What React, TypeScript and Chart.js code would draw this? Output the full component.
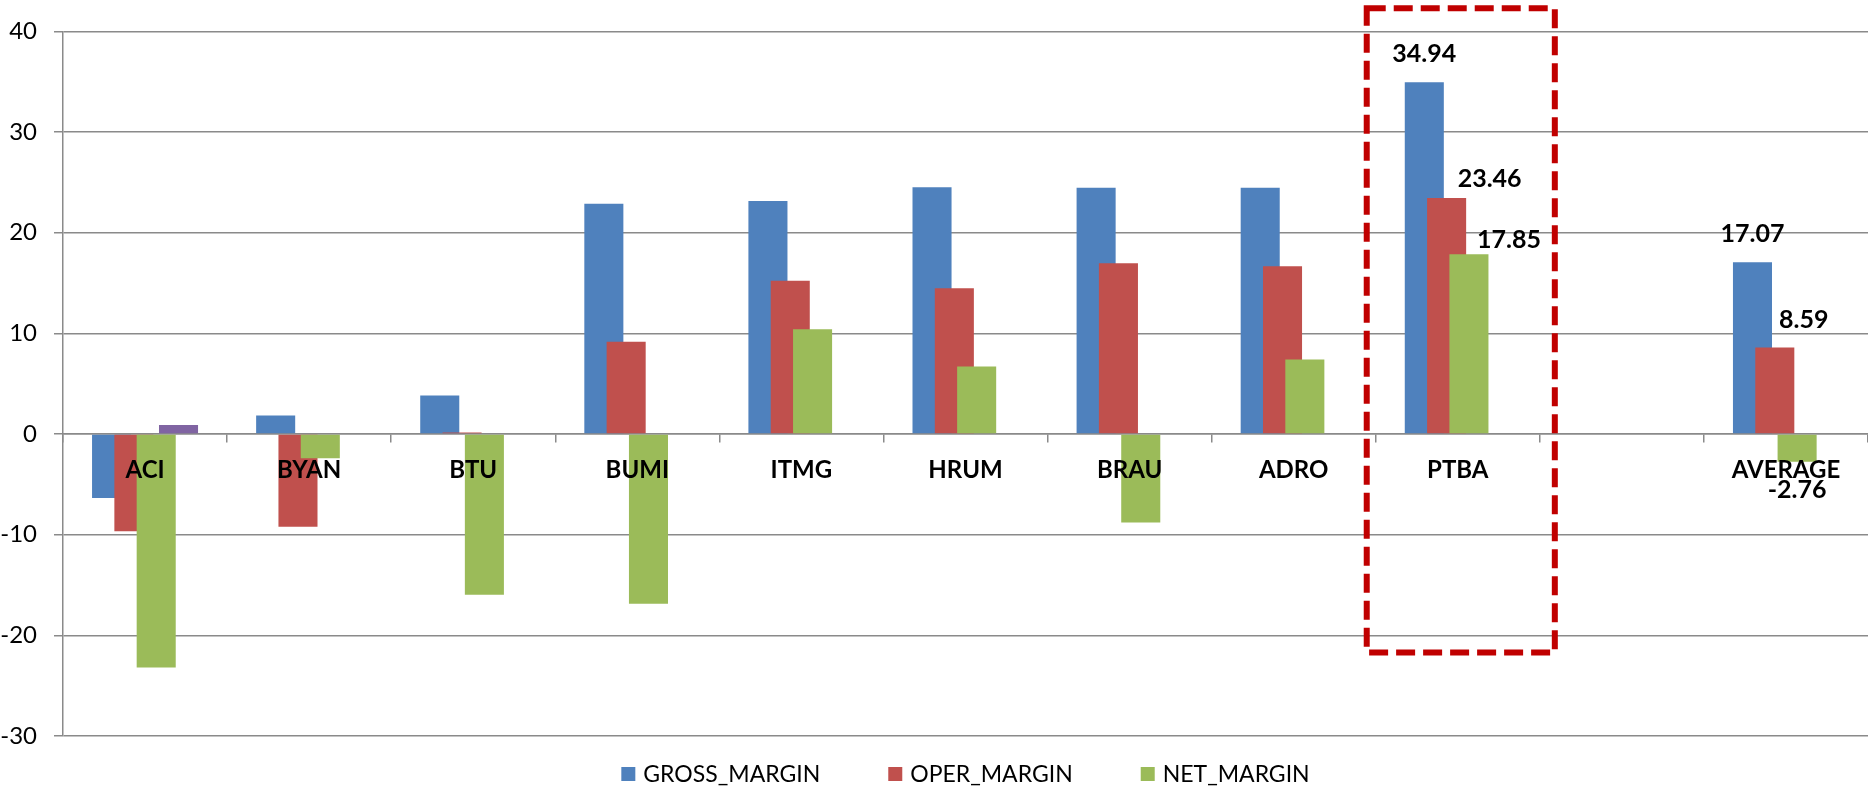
import React, { useEffect, useRef } from 'react';
import { Chart, registerables } from 'chart.js';

Chart.register(...registerables);

// ---------- data ----------
const CATEGORIES = ['ACI', 'BYAN', 'BTU', 'BUMI', 'ITMG', 'HRUM', 'BRAU', 'ADRO', 'PTBA', '', 'AVERAGE'];
const GROSS_MARGIN = [-6.35, 1.85, 3.83, 22.87, 23.14, 24.52, 24.46, 24.46, 34.94, null, 17.07];
const OPER_MARGIN = [-9.67, -9.2, 0.15, 9.18, 15.22, 14.49, 16.96, 16.66, 23.46, null, 8.59];
const NET_MARGIN = [-23.2, -2.4, -15.97, -16.86, 10.4, 6.7, -8.78, 7.4, 17.85, null, -2.76];
const EXTRA_SERIES = [0.9, null, null, null, null, null, null, null, null, null, null];
const SERIES_NAMES = ['GROSS_MARGIN', 'OPER_MARGIN', 'NET_MARGIN', ''];
const LEGEND_SERIES = [0, 1, 2];
const Y_MIN = -30;
const Y_MAX = 40;
const Y_STEP = 10;
const LABELED_CATEGORIES = ['PTBA', 'AVERAGE'];
const LABELED_SERIES = [0, 1, 2];

// ---------- styling ----------
const COLORS = ['#4F81BD', '#C0504D', '#9BBB59', '#8064A2'];
const GRID = '#8A8A8A';
const FONT = 'Lato, "Open Sans", sans-serif';
const LABEL_GAP = 28;
const LABEL_NUDGES: Record<string, [number, number]> = {
  'PTBA|1': [43, 9],
  'PTBA|2': [40, 14],
  'AVERAGE|1': [29, 0],
};
const HIGHLIGHT = { category: 'PTBA', yTop: 42.3, yBottom: -21.7, padLeft: 9, padRight: 15 };

const SERIES = [GROSS_MARGIN, OPER_MARGIN, NET_MARGIN, EXTRA_SERIES];

function drawValueLabels(chart: any) {
  const { ctx } = chart;
  ctx.save();
  ctx.font = `bold 25px ${FONT}`;
  ctx.fillStyle = '#000';
  ctx.textAlign = 'center';
  ctx.textBaseline = 'middle';
  LABELED_CATEGORIES.forEach((cat) => {
    const idx = CATEGORIES.indexOf(cat);
    LABELED_SERIES.forEach((di) => {
      const v = SERIES[di][idx];
      if (v == null) return;
      const bar = chart.getDatasetMeta(di).data[idx];
      if (!bar) return;
      const nudge = LABEL_NUDGES[`${cat}|${di}`] || [0, 0];
      const y = v >= 0 ? bar.y - LABEL_GAP : bar.y + LABEL_GAP;
      ctx.fillText(v.toFixed(2), bar.x + nudge[0], y + nudge[1]);
    });
  });
  ctx.restore();
}

const drawOrderPlugin = {
  id: 'drawOrder',
  beforeDatasetsDraw(chart: any) {
    const { ctx, chartArea } = chart;
    ctx.save();
    ctx.beginPath();
    ctx.rect(chartArea.left, chartArea.top, chartArea.right - chartArea.left, chartArea.bottom - chartArea.top);
    ctx.clip();
    const metas = chart.getSortedVisibleDatasetMetas().slice().sort((a: any, b: any) => a.index - b.index);
    metas.forEach((m: any) => m.controller.draw());
    ctx.restore();
    drawValueLabels(chart);
    return false;
  },
};

const highlightPlugin = {
  id: 'highlightBox',
  afterDraw(chart: any) {
    const { ctx } = chart;
    const xs = chart.scales.x;
    const ys = chart.scales.y;
    const i = CATEGORIES.indexOf(HIGHLIGHT.category);
    const half = (xs.getPixelForValue(1) - xs.getPixelForValue(0)) / 2;
    const left = xs.getPixelForValue(i) - half - HIGHLIGHT.padLeft;
    const right = xs.getPixelForValue(i) + half + HIGHLIGHT.padRight;
    const top = ys.getPixelForValue(HIGHLIGHT.yTop);
    const bottom = ys.getPixelForValue(HIGHLIGHT.yBottom);
    ctx.save();
    ctx.strokeStyle = '#C00000';
    ctx.lineWidth = 6;
    ctx.setLineDash([19, 8]);
    ctx.strokeRect(left, top, right - left, bottom - top);
    ctx.restore();
  },
};

const legendPlugin = {
  id: 'bottomLegend',
  afterDraw(chart: any) {
    const { ctx, chartArea } = chart;
    const BOX = 14;
    const GAP = 8;
    const ITEM_GAP = 68;
    ctx.save();
    ctx.font = `23px ${FONT}`;
    ctx.textBaseline = 'middle';
    ctx.textAlign = 'left';
    const items = LEGEND_SERIES.map((i) => ({ text: SERIES_NAMES[i], color: COLORS[i] }));
    const widths = items.map((it) => BOX + GAP + ctx.measureText(it.text).width);
    const total = widths.reduce((a, b) => a + b, 0) + ITEM_GAP * (items.length - 1);
    let x = (chartArea.left + chartArea.right) / 2 - total / 2;
    const cy = chartArea.bottom + 38;
    items.forEach((it, k) => {
      ctx.fillStyle = it.color;
      ctx.fillRect(x, cy - BOX / 2, BOX, BOX);
      ctx.fillStyle = '#000';
      ctx.fillText(it.text, x + BOX + GAP, cy + 1);
      x += widths[k] + ITEM_GAP;
    });
    ctx.restore();
  },
};

export default function App() {
  const canvasRef = useRef<HTMLCanvasElement | null>(null);

  useEffect(() => {
    if (!canvasRef.current) return;
    const chart = new Chart(canvasRef.current, {
      type: 'bar',
      data: {
        labels: CATEGORIES,
        datasets: SERIES.map((data, i) => ({
          label: SERIES_NAMES[i],
          data,
          backgroundColor: COLORS[i],
          borderWidth: 0,
          categoryPercentage: 0.544,
          barPercentage: 1.75,
        })),
      },
      options: {
        animation: false,
        responsive: true,
        maintainAspectRatio: false,
        layout: { padding: { top: 29, bottom: 52, left: 0, right: 0 } },
        plugins: {
          legend: { display: false },
          tooltip: { enabled: false },
          title: { display: false },
        },
        scales: {
          x: {
            position: { y: 0 } as any,
            offset: true,
            grid: {
              display: true,
              drawOnChartArea: false,
              drawTicks: true,
              tickLength: 8,
              offset: true,
              color: GRID,
              lineWidth: 1.5,
            },
            border: { display: true, color: GRID, width: 1.5 },
            ticks: {
              z: 1,
              font: { family: FONT, size: 24, weight: 'bold' },
              color: '#000',
              padding: 14,
              maxRotation: 0,
              autoSkip: false,
            },
          },
          y: {
            min: Y_MIN,
            max: Y_MAX,
            ticks: {
              stepSize: Y_STEP,
              font: { family: FONT, size: 24 },
              color: '#000',
              padding: 17,
            },
            grid: { color: GRID, lineWidth: 1.5, tickLength: 9, drawTicks: true },
            border: { display: true, color: GRID, width: 1.5 },
            afterFit(scale: any) {
              scale.width = 63;
            },
          },
        },
      },
      plugins: [drawOrderPlugin, highlightPlugin, legendPlugin],
    });
    return () => chart.destroy();
  }, []);

  return (
    <div style={{ position: 'absolute', left: 0, top: 0, width: 1868, height: 788, background: '#fff' }}>
      <canvas ref={canvasRef} />
    </div>
  );
}
